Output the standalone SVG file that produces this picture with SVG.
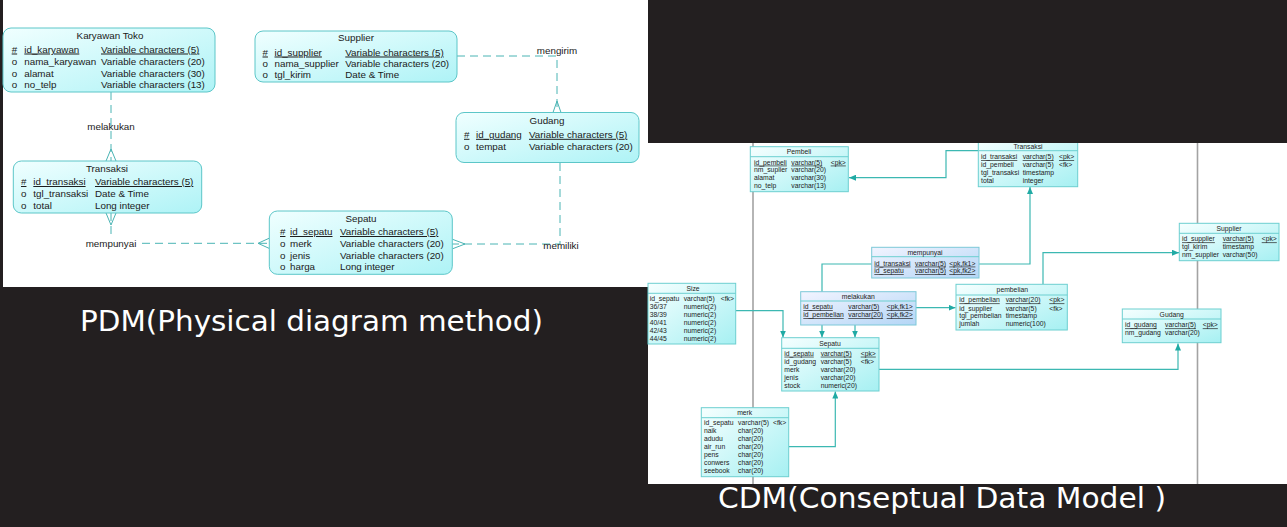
<svg xmlns="http://www.w3.org/2000/svg" width="1287" height="527" viewBox="0 0 1287 527">
<defs>
<linearGradient id="gp" x1="0" y1="0" x2="1" y2="1"><stop offset="0" stop-color="#f0ffff"/><stop offset="1" stop-color="#aef3f6"/></linearGradient>
<linearGradient id="gc" x1="0" y1="0" x2="1" y2="1"><stop offset="0" stop-color="#f6ffff"/><stop offset="1" stop-color="#a6f0f2"/></linearGradient>
<linearGradient id="gb" x1="0" y1="0" x2="1" y2="1"><stop offset="0" stop-color="#f2f4ff"/><stop offset="1" stop-color="#b4d6f6"/></linearGradient>
<marker id="ar" markerUnits="userSpaceOnUse" markerWidth="8" markerHeight="6" refX="7" refY="3" orient="auto"><path d="M0,0 L7,3 L0,6 z" fill="#20aaa4"/></marker>
</defs>
<style>
.pbox{fill:url(#gp);stroke:#5cc6c8;stroke-width:1}
.cbox{fill:url(#gc);stroke:#6ccfd0;stroke-width:1}
.bbox{fill:url(#gb);stroke:#7cc8d8;stroke-width:1}
.hl{stroke:#6ccfd0;stroke-width:1}
.pt{font-family:"Liberation Sans",Arial,sans-serif;font-size:9.8px;fill:#1a1a1a}
.ct{font-family:"Liberation Sans",Arial,sans-serif;font-size:6.8px;fill:#222}
.mid{text-anchor:middle}
.u{text-decoration:underline}
.dash{fill:none;stroke:#4ab4b4;stroke-width:1;stroke-dasharray:8 5}
.crow{fill:none;stroke:#4ab4b4;stroke-width:1}
.con{fill:none;stroke:#3cb8b2;stroke-width:1.2}
.gray{stroke:#a3a3a3;stroke-width:1.6}
.big{font-family:"DejaVu Sans",sans-serif;font-size:28px;fill:#ffffff}
</style>
<rect x="0" y="0" width="1287" height="527" fill="#231f20"/>
<rect x="3" y="0" width="645" height="287" fill="#ffffff"/>
<rect x="648" y="143" width="639" height="341" fill="#ffffff"/>

<g id="pdm-connectors">
<path class="dash" d="M111,92 V161"/>
<path class="crow" d="M106,161 L111,149 L116,161"/>
<path class="dash" d="M111,213 V236"/>
<path class="crow" d="M106,213 L111,225 L116,213"/>
<path class="dash" d="M142,243.3 H269"/>
<path class="crow" d="M269,238.3 L258,243.3 L269,248.3"/>
<path class="dash" d="M457,56 H557 V112"/>
<path class="crow" d="M553,112.5 L557,101 L561,112.5"/>
<path class="dash" d="M560,163 V244 H452"/>
<path class="crow" d="M452.5,239.3 L465,244 L452.5,248.8"/>
</g>
<g id="pdm-labels">
<text class="pt mid" x="111" y="129.5">melakukan</text>
<text class="pt mid" x="111" y="247">mempunyai</text>
<text class="pt mid" x="557" y="53.5">mengirim</text>
<text class="pt mid" x="561" y="248.5">memiliki</text>
</g>

<g id="pdm-karyawan">
<rect class="pbox" x="3" y="28" width="212" height="64" rx="8"/>
<text class="pt mid" x="110" y="39">Karyawan Toko</text>
<text class="pt u" x="11.7" y="52.5">#</text><text class="pt u" x="24.3" y="52.5">id_karyawan</text><text class="pt u" x="101" y="52.5">Variable characters (5)</text>
<text class="pt" x="11.7" y="64.5">o</text><text class="pt" x="24.3" y="64.5">nama_karyawan</text><text class="pt" x="101" y="64.5">Variable characters (20)</text>
<text class="pt" x="11.7" y="76.5">o</text><text class="pt" x="24.3" y="76.5">alamat</text><text class="pt" x="101" y="76.5">Variable characters (30)</text>
<text class="pt" x="11.7" y="88">o</text><text class="pt" x="24.3" y="88">no_telp</text><text class="pt" x="101" y="88">Variable characters (13)</text>
</g>
<g id="pdm-supplier">
<rect class="pbox" x="255" y="31" width="202" height="51" rx="8"/>
<text class="pt mid" x="356" y="41">Supplier</text>
<text class="pt u" x="262.5" y="55.5">#</text><text class="pt u" x="274.5" y="55.5">id_supplier</text><text class="pt u" x="345.3" y="55.5">Variable characters (5)</text>
<text class="pt" x="262.5" y="66.5">o</text><text class="pt" x="274.5" y="66.5">nama_supplier</text><text class="pt" x="345.3" y="66.5">Variable characters (20)</text>
<text class="pt" x="262.5" y="77.5">o</text><text class="pt" x="274.5" y="77.5">tgl_kirim</text><text class="pt" x="345.3" y="77.5">Date &amp; Time</text>
</g>
<g id="pdm-gudang">
<rect class="pbox" x="456" y="112.5" width="183" height="50" rx="8"/>
<text class="pt mid" x="547" y="123.5">Gudang</text>
<text class="pt u" x="464" y="137.8">#</text><text class="pt u" x="476" y="137.8">id_gudang</text><text class="pt u" x="529" y="137.8">Variable characters (5)</text>
<text class="pt" x="464" y="149.5">o</text><text class="pt" x="476" y="149.5">tempat</text><text class="pt" x="529" y="149.5">Variable characters (20)</text>
</g>
<g id="pdm-transaksi">
<rect class="pbox" x="13.3" y="161" width="188.4" height="52" rx="8"/>
<text class="pt mid" x="107" y="172">Transaksi</text>
<text class="pt u" x="21" y="185">#</text><text class="pt u" x="33.3" y="185">id_transaksi</text><text class="pt u" x="95" y="185">Variable characters (5)</text>
<text class="pt" x="21" y="196.8">o</text><text class="pt" x="33.3" y="196.8">tgl_transaksi</text><text class="pt" x="95" y="196.8">Date &amp; Time</text>
<text class="pt" x="21" y="208.7">o</text><text class="pt" x="33.3" y="208.7">total</text><text class="pt" x="95" y="208.7">Long integer</text>
</g>
<g id="pdm-sepatu">
<rect class="pbox" x="269.3" y="211" width="183" height="63.3" rx="8"/>
<text class="pt mid" x="361" y="222">Sepatu</text>
<text class="pt u" x="280" y="235">#</text><text class="pt u" x="290" y="235">id_sepatu</text><text class="pt u" x="340" y="235">Variable characters (5)</text>
<text class="pt" x="280" y="246.7">o</text><text class="pt" x="290" y="246.7">merk</text><text class="pt" x="340" y="246.7">Variable characters (20)</text>
<text class="pt" x="280" y="258.5">o</text><text class="pt" x="290" y="258.5">jenis</text><text class="pt" x="340" y="258.5">Variable characters (20)</text>
<text class="pt" x="280" y="270">o</text><text class="pt" x="290" y="270">harga</text><text class="pt" x="340" y="270">Long integer</text>
</g>

<g id="cdm-lines">
<path class="gray" d="M753,143 V484"/>
<path class="gray" d="M1197.5,143 V484"/>
</g>
<g id="cdm-connectors">
<path class="con" d="M978,150.7 H946 V177.7 H849" marker-end="url(#ar)"/>
<path class="con" d="M979,264 H1030 V187" marker-end="url(#ar)"/>
<path class="con" d="M872,264 H822 V337.5" marker-end="url(#ar)"/>
<path class="con" d="M855,325 V337.5" marker-end="url(#ar)"/>
<path class="con" d="M916,307.7 H955.5" marker-end="url(#ar)"/>
<path class="con" d="M736,310.7 H783 V337.5" marker-end="url(#ar)"/>
<path class="con" d="M1043,284.3 V252.7 H1179" marker-end="url(#ar)"/>
<path class="con" d="M879,369.3 H1178 V343.5" marker-end="url(#ar)"/>
<path class="con" d="M789,446.7 H835.3 V391.5" marker-end="url(#ar)"/>
</g>

<g id="cdm-pembeli">
<rect class="cbox" x="750.3" y="146.7" width="98" height="45"/>
<line class="hl" x1="750.3" y1="156.7" x2="848.3" y2="156.7"/>
<text class="ct mid" x="799" y="154">Pembeli</text>
<text class="ct u" x="754" y="164.6">id_pembeli</text><text class="ct u" x="791.3" y="164.6">varchar(5)</text><text class="ct u" x="830.7" y="164.6">&lt;pk&gt;</text>
<text class="ct" x="754" y="172.4">nm_suplier</text><text class="ct" x="791.3" y="172.4">varchar(20)</text>
<text class="ct" x="754" y="180.2">alamat</text><text class="ct" x="791.3" y="180.2">varchar(30)</text>
<text class="ct" x="754" y="188">no_telp</text><text class="ct" x="791.3" y="188">varchar(13)</text>
</g>
<g id="cdm-transaksi">
<rect class="cbox" x="978.3" y="138" width="99.4" height="48.7"/>
<line class="hl" x1="978.3" y1="150.7" x2="1077.7" y2="150.7"/>
<text class="ct mid" x="1028" y="148.5">Transaksi</text>
<text class="ct u" x="981" y="159">id_transaksi</text><text class="ct u" x="1022.7" y="159">varchar(5)</text><text class="ct u" x="1059" y="159">&lt;pk&gt;</text>
<text class="ct" x="981" y="167">id_pembeli</text><text class="ct" x="1022.7" y="167">varchar(5)</text><text class="ct" x="1059" y="167">&lt;fk&gt;</text>
<text class="ct" x="981" y="175">tgl_transaksi</text><text class="ct" x="1022.7" y="175">timestamp</text>
<text class="ct" x="981" y="183">total</text><text class="ct" x="1022.7" y="183">integer</text>
</g>
<g id="cdm-supplier">
<rect class="cbox" x="1179.3" y="223.3" width="99.7" height="37.4"/>
<line class="hl" x1="1179.3" y1="233.3" x2="1279" y2="233.3"/>
<text class="ct mid" x="1229" y="230.8">Supplier</text>
<text class="ct u" x="1182" y="241.4">id_supplier</text><text class="ct u" x="1222.7" y="241.4">varchar(5)</text><text class="ct u" x="1261.7" y="241.4">&lt;pk&gt;</text>
<text class="ct" x="1182" y="249">tgl_kirim</text><text class="ct" x="1222.7" y="249">timestamp</text>
<text class="ct" x="1182" y="256.7">nm_supplier</text><text class="ct" x="1222.7" y="256.7">varchar(50)</text>
</g>
<g id="cdm-mempunyai">
<rect class="bbox" x="871.7" y="247.3" width="107.3" height="30.7"/>
<line class="hl" x1="871.7" y1="256.7" x2="979" y2="256.7"/>
<text class="ct mid" x="925" y="254.8">mempunyai</text>
<text class="ct u" x="874.3" y="265.6">id_transaksi</text><text class="ct u" x="915" y="265.6">varchar(5)</text><text class="ct u" x="949.3" y="265.6">&lt;pk,fk1&gt;</text>
<text class="ct u" x="874.3" y="273.3">id_sepatu</text><text class="ct u" x="915" y="273.3">varchar(5)</text><text class="ct u" x="949.3" y="273.3">&lt;pk,fk2&gt;</text>
</g>
<g id="cdm-size">
<rect class="cbox" x="648" y="283.3" width="87.7" height="60.7"/>
<line class="hl" x1="648" y1="293.3" x2="735.7" y2="293.3"/>
<text class="ct mid" x="693" y="290.8">Size</text>
<text class="ct" x="649.7" y="301.4">id_sepatu</text><text class="ct" x="683.7" y="301.4">varchar(5)</text><text class="ct" x="720.7" y="301.4">&lt;fk&gt;</text>
<text class="ct" x="649.7" y="309.3">36/37</text><text class="ct" x="683.7" y="309.3">numeric(2)</text>
<text class="ct" x="649.7" y="317.2">38/39</text><text class="ct" x="683.7" y="317.2">numeric(2)</text>
<text class="ct" x="649.7" y="325.1">40/41</text><text class="ct" x="683.7" y="325.1">numeric(2)</text>
<text class="ct" x="649.7" y="333">42/43</text><text class="ct" x="683.7" y="333">numeric(2)</text>
<text class="ct" x="649.7" y="341">44/45</text><text class="ct" x="683.7" y="341">numeric(2)</text>
</g>
<g id="cdm-melakukan">
<rect class="bbox" x="800.7" y="291.7" width="115.3" height="33.3"/>
<line class="hl" x1="800.7" y1="301" x2="916" y2="301"/>
<text class="ct mid" x="858.3" y="298.5">melakukan</text>
<text class="ct u" x="803.3" y="309">id_sepatu</text><text class="ct u" x="848.3" y="309">varchar(5)</text><text class="ct u" x="886.7" y="309">&lt;pk,fk1&gt;</text>
<text class="ct u" x="803.3" y="317">id_pembelian</text><text class="ct u" x="848.3" y="317">varchar(20)</text><text class="ct u" x="886.7" y="317">&lt;pk,fk2&gt;</text>
</g>
<g id="cdm-pembelian">
<rect class="cbox" x="956" y="284.3" width="111.3" height="45.7"/>
<line class="hl" x1="956" y1="295" x2="1067.3" y2="295"/>
<text class="ct mid" x="1012.3" y="291.8">pembelian</text>
<text class="ct u" x="959.3" y="302.4">id_pembelian</text><text class="ct u" x="1005.7" y="302.4">varchar(20)</text><text class="ct u" x="1049.3" y="302.4">&lt;pk&gt;</text>
<text class="ct" x="959.3" y="310.7">id_supplier</text><text class="ct" x="1005.7" y="310.7">varchar(5)</text><text class="ct" x="1049.3" y="310.7">&lt;fk&gt;</text>
<text class="ct" x="959.3" y="318.4">tgl_pembelian</text><text class="ct" x="1005.7" y="318.4">timestamp</text>
<text class="ct" x="959.3" y="326">jumlah</text><text class="ct" x="1005.7" y="326">numeric(100)</text>
</g>
<g id="cdm-gudang">
<rect class="cbox" x="1122.3" y="309" width="98.7" height="33.7"/>
<line class="hl" x1="1122.3" y1="319" x2="1221" y2="319"/>
<text class="ct mid" x="1171.7" y="316.5">Gudang</text>
<text class="ct u" x="1125" y="327.4">id_gudang</text><text class="ct u" x="1165" y="327.4">varchar(5)</text><text class="ct u" x="1202.7" y="327.4">&lt;pk&gt;</text>
<text class="ct" x="1125" y="335">nm_gudang</text><text class="ct" x="1165" y="335">varchar(20)</text>
</g>
<g id="cdm-sepatu">
<rect class="cbox" x="781.7" y="337.7" width="97.3" height="53.3"/>
<line class="hl" x1="781.7" y1="348.3" x2="879" y2="348.3"/>
<text class="ct mid" x="830" y="345.8">Sepatu</text>
<text class="ct u" x="784.3" y="355.7">id_sepatu</text><text class="ct u" x="820.7" y="355.7">varchar(5)</text><text class="ct u" x="860.7" y="355.7">&lt;pk&gt;</text>
<text class="ct" x="784.3" y="363.7">id_gudang</text><text class="ct" x="820.7" y="363.7">varchar(5)</text><text class="ct" x="860.7" y="363.7">&lt;fk&gt;</text>
<text class="ct" x="784.3" y="371.7">merk</text><text class="ct" x="820.7" y="371.7">varchar(20)</text>
<text class="ct" x="784.3" y="380">jenis</text><text class="ct" x="820.7" y="380">varchar(20)</text>
<text class="ct" x="784.3" y="388.3">stock</text><text class="ct" x="820.7" y="388.3">numeric(20)</text>
</g>
<g id="cdm-merk">
<rect class="cbox" x="701.3" y="407.7" width="87.4" height="69"/>
<line class="hl" x1="701.3" y1="417.7" x2="788.7" y2="417.7"/>
<text class="ct mid" x="744.7" y="414.8">merk</text>
<text class="ct" x="704" y="425">id_sepatu</text><text class="ct" x="738" y="425">varchar(5)</text><text class="ct" x="773" y="425">&lt;fk&gt;</text>
<text class="ct" x="704" y="433.2">naik</text><text class="ct" x="738" y="433.2">char(20)</text>
<text class="ct" x="704" y="441.2">adudu</text><text class="ct" x="738" y="441.2">char(20)</text>
<text class="ct" x="704" y="449">air_run</text><text class="ct" x="738" y="449">char(20)</text>
<text class="ct" x="704" y="457.2">pens</text><text class="ct" x="738" y="457.2">char(20)</text>
<text class="ct" x="704" y="465">conwers</text><text class="ct" x="738" y="465">char(20)</text>
<text class="ct" x="704" y="473">seebook</text><text class="ct" x="738" y="473">char(20)</text>
</g>

<rect x="648" y="0" width="639" height="143" fill="#231f20"/>
<text class="big" x="80" y="331" textLength="463" lengthAdjust="spacingAndGlyphs">PDM(Physical diagram method)</text>
<text class="big" x="718" y="508" textLength="448" lengthAdjust="spacingAndGlyphs">CDM(Conseptual Data Model )</text>
</svg>
